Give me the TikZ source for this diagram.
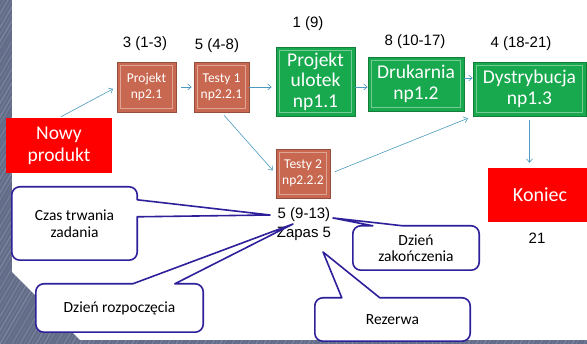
\documentclass[tikz,border=0pt]{standalone}
\usepackage{fontspec}
\setmainfont{Carlito}
\newfontfamily\arialfont{Liberation Sans}
\usetikzlibrary{arrows.meta,positioning,calc}

\definecolor{edgegray}{RGB}{98,108,136}
\definecolor{brick}{RGB}{200,104,80}
\definecolor{leaf}{RGB}{24,168,78}
\definecolor{arrowblue}{RGB}{75,155,190}
\definecolor{ink}{RGB}{46,31,154}

\tikzset{
  box/.style={inner sep=0pt, align=center, text=white},
  bevel/.style={box, fill=#1, draw=#1!75!black, line width=0.8pt,
    path picture={\draw[#1!60!white, line width=0.8pt]
      ([shift={(3.5pt,-3.5pt)}]path picture bounding box.north west) rectangle
      ([shift={(-3.5pt,3.5pt)}]path picture bounding box.south east);}},
  small/.style={font=\fontsize{13.5}{16}\selectfont},
  large/.style={font=\fontsize{19.5}{20.5}\selectfont},
  link/.style={draw=arrowblue, line width=0.6pt, -{Straight Barb[length=3.5pt,width=6pt]}},
  num/.style={font=\arialfont\fontsize{15}{17}\selectfont, anchor=base, inner sep=0pt},
  note/.style={fill=white, rounded corners=8pt, inner sep=0pt, align=center,
    font=\fontsize{15.5}{16.5}\selectfont},
  balloon/.style={draw=ink, line width=1.6pt, line join=round}
}

\begin{document}
\begin{tikzpicture}[x=1pt, y=1pt]
\clip (0,0) rectangle (587,344);
\fill[edgegray] (0,0) rectangle (587,344);
% brushed streaks on the frame
\begin{scope}
  \clip (0,0) -- (0,344) -- (12,344) -- (12,72) -- (80,4) -- (587,4) -- (587,0) -- cycle;
  \foreach \i in {0,4,...,900}
    \pgfmathsetmacro\op{0.04+0.16*mod(\i*7,11)/11}
    \draw[white, opacity=\op, line width=1.2pt] (\i-300,0) -- (\i-100,344);
\end{scope}
\fill[white] (12,344) -- (587,344) -- (587,4) -- (80,4) -- (12,72) -- cycle;

% tasks
\node[box, fill=red, minimum width=106pt, minimum height=55pt,
  font=\fontsize{19.5}{21.7}\selectfont] (nowy) at (59,198.5) {Nowy\\produkt};
\node[bevel=brick, small, minimum width=59pt, minimum height=50pt] (proj) at (146.5,257) {Projekt\\np2.1};
\node[bevel=brick, small, minimum width=55pt, minimum height=50pt] (test1) at (221.5,257) {Testy 1\\np2.2.1};
\node[bevel=brick, small, minimum width=54pt, minimum height=49pt] (test2) at (303,170.5) {Testy 2\\np2.2.2};
\node[bevel=leaf, large, minimum width=79pt, minimum height=69pt] (ulot) at (315.5,262.5) {Projekt\\ulotek\\np1.1};
\node[bevel=leaf, large, minimum width=96pt, minimum height=54pt] (druk) at (416,260) {Drukarnia\\np1.2};
\node[bevel=leaf, large, minimum width=113pt, minimum height=54pt] (dystr) at (529.5,255) {Dystrybucja\\np1.3};
\node[box, fill=red, minimum width=104pt, minimum height=54pt,
  font=\fontsize{20}{22}\selectfont] (koniec) at (540,149) {Koniec};

% durations
\node[num] (d1) at (145,296) {3 (1-3)};
\node[num] (d2) at (217,294) {5 (4-8)};
\node[num] (d3) at (308,316) {1 (9)};
\node[num] (d4) at (415,298) {8 (10-17)};
\node[num] (d5) at (521,296) {4 (18-21)};
\node[num] (d6) at (537,100) {21};
\node[num] (d7) at (304,125) {5 (9-13)};
\node[num] (zapas) at (304,106) {Zapas 5};

\draw[link, shorten <=2pt, shorten >=4pt] (nowy.north) -- (proj.west);
\draw[link, shorten <=5pt, shorten >=2pt] (proj) -- (test1);
\draw[link, shorten >=4pt] (test1.east) -- (test1.east -| ulot.west);
\draw[link, shorten <=4pt, shorten >=4pt] (test1.south) -- (test2.west);
\draw[link] (ulot.east |- test1) -- (druk.west |- test1);
\draw[link] ([yshift=6pt]druk.east) -- ([yshift=6pt]druk.east -| dystr.west);
\draw[link, shorten <=5pt, shorten >=5pt] (test2.east) -- (dystr.south west);
\draw[link, shorten <=4pt, shorten >=5pt] (dystr.south) -- (dystr.south |- koniec.north);

% callouts
\node[note, minimum width=125pt, minimum height=73pt] (czas) at (74.5,120.5) {Czas trwania\\zadania};
\node[note, minimum width=167pt, minimum height=48pt] (rozp) at (119.5,36) {Dzień rozpoczęcia};
\node[note, minimum width=126pt, minimum height=44pt] (zak) at (416,96) {Dzień\\zakończenia};
\node[note, minimum width=155pt, minimum height=43pt] (rez) at (392.5,24.5) {Rezerwa};
\coordinate (tczas) at (270,129);
\coordinate (trozp) at (293,120);
\coordinate (tzak) at (333,126);
\coordinate (trez) at (323,92);

\draw[balloon] (czas.west) [rounded corners=8pt] -- (czas.north west) -- (czas.north east)
  [sharp corners] -- ([yshift=-13pt]czas.north east) -- (tczas) -- ([yshift=-30pt]czas.north east)
  [rounded corners=8pt] -- (czas.south east) -- (czas.south west) -- cycle;
\draw[balloon] (rozp.south) [rounded corners=8pt] -- (rozp.south west) -- (rozp.north west)
  [sharp corners] -- ([xshift=97pt]rozp.north west) -- (trozp) -- ([xshift=139pt]rozp.north west)
  [rounded corners=8pt] -- (rozp.north east) -- (rozp.south east) -- cycle;
\draw[balloon] (zak.south) [rounded corners=8pt] -- (zak.south west) -- (zak.north west)
  [sharp corners] -- ([xshift=20pt]zak.north west) -- (tzak) -- ([xshift=50pt]zak.north west)
  [rounded corners=8pt] -- (zak.north east) -- (zak.south east) -- cycle;
\draw[balloon] (rez.south) [rounded corners=8pt] -- (rez.south west) -- (rez.north west)
  [sharp corners] -- ([xshift=27pt]rez.north west) -- (trez) -- ([xshift=65pt]rez.north west)
  [rounded corners=8pt] -- (rez.north east) -- (rez.south east) -- cycle;
\end{tikzpicture}
\end{document}
